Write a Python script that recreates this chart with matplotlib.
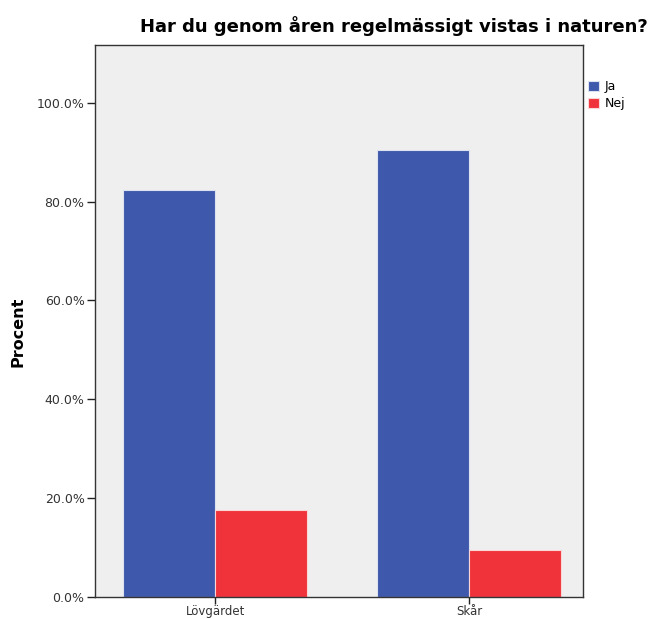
import numpy as np
from matplotlib import pyplot as plt
from matplotlib.ticker import PercentFormatter

# data
places = ["Lövgärdet", "Skår"]
ja_values = [82.4, 90.4]
nej_values = [17.6, 9.6]
series_names = ["Ja", "Nej"]

plt.rcParams['font.family'] = ['DejaVu Sans']

fig = plt.figure(figsize=(6.5, 6.19), dpi=100)
ax = fig.add_axes([95 / 650, 1 - 597 / 619, 488 / 650, 552 / 619])
ax.set_facecolor('#efefef')

x = np.arange(len(places))
w = 0.362
b1 = ax.bar(x - w / 2, ja_values, w, color='#3e58ac', edgecolor='#dde2f0', linewidth=0.8, label=series_names[0])
b2 = ax.bar(x + w / 2, nej_values, w, color='#f0323a', edgecolor='#fbd6d7', linewidth=0.8, label=series_names[1])

ax.set_xlim(-0.474, 1.447)
ax.set_ylim(0, 111.7)
ax.set_yticks([0, 20, 40, 60, 80, 100])
ax.yaxis.set_major_formatter(PercentFormatter(decimals=1))
ax.set_xticks(x)
ax.set_xticklabels(places)
ax.tick_params(axis='both', direction='out', length=6, width=1, colors='#222222',
               labelsize=9, labelcolor='#333333', pad=1.5)
ax.tick_params(axis='x', length=5, pad=1, labelsize=8.5)
for s in ax.spines.values():
    s.set_color('#333333')
    s.set_linewidth(1)

ax.set_ylabel("Procent", fontsize=11.5, fontweight='bold')
ax.yaxis.set_label_coords(-69 / 488, 0.48)
fig.text(0.997, 1 - 26 / 619, "Har du genom åren regelmässigt vistas i naturen?",
         ha='right', va='center', fontsize=13, fontweight='bold')

fig.legend(handles=[b1, b2], labels=series_names, loc='upper left',
           bbox_to_anchor=(588 / 650, 1 - 80 / 619), frameon=False, fontsize=9,
           handlelength=0.9, handleheight=0.9, handletextpad=0.4, labelspacing=0.35,
           borderaxespad=0, borderpad=0)

fig.savefig("out.png", dpi=100)
